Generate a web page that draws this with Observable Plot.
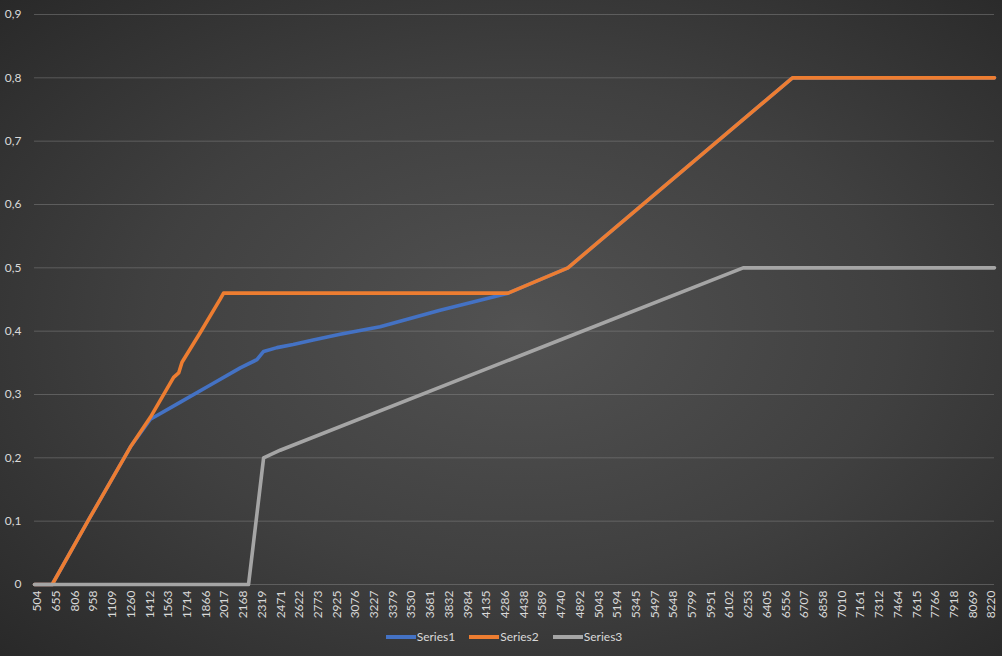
<!DOCTYPE html>
<html><head><meta charset="utf-8">
<script src="https://cdn.jsdelivr.net/npm/d3@7"></script>
<script src="https://cdn.jsdelivr.net/npm/@observablehq/plot@0.6"></script>
<style>
html,body{margin:0;padding:0;background:#262626;}
#chart{position:relative;width:1002px;height:656px;overflow:hidden;
  background:radial-gradient(ellipse 75% 75% at 52% 50%, #525252 0%, #404040 50%, #272727 100%);
  font-family:Lato,"Open Sans",sans-serif;}
#plot{position:absolute;left:0;top:0;}
#legend{position:absolute;left:0;top:629px;width:1002px;display:flex;justify-content:center;align-items:center;color:#d9d9d9;font-size:12px;padding-left:6px;box-sizing:border-box;}
.item{display:flex;align-items:center;margin:0 7px;}
.sw{display:inline-block;width:30px;height:4px;margin-right:1px;}
</style>
</head><body>
<div id="chart"><div id="plot"></div><div id="legend"></div></div>
<script>
const seriesNames = ["Series1", "Series2", "Series3"];
const seriesColors = ["#4472C4", "#ED7D31", "#A5A5A5"];

const xTicks = [504,655,806,958,1109,1260,1412,1563,1714,1866,2017,2168,2319,2471,2622,2773,2925,3076,3227,3379,3530,3681,3832,3984,4135,4286,4438,4589,4740,4892,5043,5194,5345,5497,5648,5799,5951,6102,6253,6405,6556,6707,6858,7010,7161,7312,7464,7615,7766,7918,8069,8220];
const yTicks = [0,0.1,0.2,0.3,0.4,0.5,0.6,0.7,0.8,0.9];

const s1X = [480,623,932,1255,1417,1660,1902,2144,2279,2333,2441,2572,2734,2952,3275,3760,4027,4310,4794,6610,8244];
const s1Y = [0,0,0.107,0.217,0.261,0.288,0.315,0.342,0.355,0.368,0.374,0.379,0.386,0.395,0.407,0.433,0.446,0.46,0.5,0.8,0.8];

const s2X = [480,623,932,1255,1417,1605,1646,1673,1821,1983,2009,4310,4794,6610,8244];
const s2Y = [0,0,0.107,0.217,0.264,0.327,0.334,0.351,0.398,0.451,0.46,0.46,0.5,0.8,0.8];

const s3X = [480,2211,2333,2467,6211,8244];
const s3Y = [0,0,0.2,0.212,0.5,0.5];

const toRows = (xs, ys) => xs.map((x, i) => ({x, y: ys[i]}));
const rows = [toRows(s1X, s1Y), toRows(s2X, s2Y), toRows(s3X, s3Y)];

const fmt = d => d === 0 ? "0" : d.toFixed(1).replace(".", ",");

const marks = [
  Plot.gridY(yTicks, {stroke: "#8c8c8c", strokeOpacity: 0.45, strokeWidth: 1}),
  Plot.axisY(yTicks, {tickSize: 0, tickPadding: 13, tickFormat: fmt, fill: "#d9d9d9", fontSize: 12, label: null}),
  Plot.axisX(xTicks, {tickSize: 0, tickPadding: 6, tickRotate: -90, tickFormat: d => String(d), fill: "#d9d9d9", fontSize: 12, label: null})
];
rows.forEach((r, i) => {
  marks.push(Plot.line(r, {x: "x", y: "y", stroke: "#000", strokeOpacity: 0.55, strokeWidth: 4, dy: 2.5, ariaLabel: "shadow"}));
  marks.push(Plot.line(r, {x: "x", y: "y", stroke: seriesColors[i], strokeWidth: 3.6, strokeLinejoin: "round"}));
});

const chart = Plot.plot({
  width: 1002, height: 630,
  marginLeft: 34, marginRight: 8, marginTop: 14, marginBottom: 46,
  style: {background: "transparent", fontFamily: "Lato, 'Open Sans', sans-serif", overflow: "visible"},
  x: {domain: [480, 8244]},
  y: {domain: [0, 0.9]},
  marks
});
document.getElementById("plot").appendChild(chart);
d3.select(chart).selectAll('g[aria-label="shadow"]').style("filter", "blur(1.5px)");

const legend = d3.select("#legend");
seriesNames.forEach((n, i) => {
  const it = legend.append("div").attr("class", "item");
  it.append("span").attr("class", "sw").style("background", seriesColors[i]);
  it.append("span").text(n);
});
</script>
</body></html>
